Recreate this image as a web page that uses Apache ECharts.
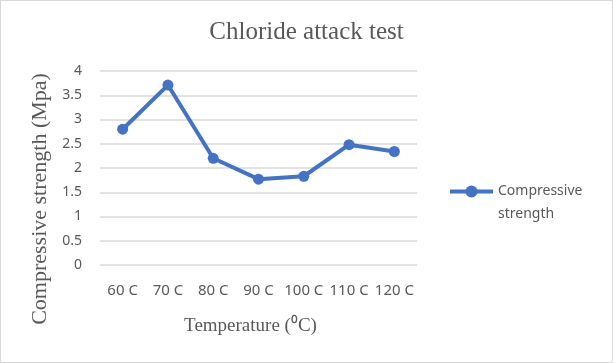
<!DOCTYPE html>
<html><head><meta charset="utf-8">
<script src="https://cdn.jsdelivr.net/npm/echarts@6/dist/echarts.min.js"></script>
<style>html,body{margin:0;padding:0;background:#fff}#c{width:611px;height:361px;border:1px solid #d9d9d9}</style>
</head><body><div id="c"></div>
<script>
const categories = ['60 C','70 C','80 C','90 C','100 C','110 C','120 C'];
const strengthValues = [2.8, 3.71, 2.2, 1.77, 1.83, 2.48, 2.34];
const seriesName = 'Compressive strength';
const chart = echarts.init(document.getElementById('c'));
chart.setOption({
  animation:false,
  title:{text:'Chloride attack test',left:'center',top:14,
    textStyle:{fontFamily:'Liberation Serif',fontSize:25,fontWeight:'normal',color:'#595959'}},
  grid:{left:99,right:195,top:70,bottom:97},
  legend:{left:442,top:151,itemWidth:43,itemHeight:15,orient:'vertical',
    lineStyle:{width:4},
    formatter:()=> ' \nCompressive\nstrength',
    textStyle:{fontFamily:'Noto Sans',fontSize:14,color:'#595959',lineHeight:23}},
  xAxis:{type:'category',data:categories,boundaryGap:true,
    axisLine:{show:false},axisTick:{show:false},
    axisLabel:{fontFamily:'Noto Sans',fontSize:15,color:'#595959',margin:18,interval:0},
    name:'Temperature (\u2070C)',nameLocation:'middle',nameGap:52,
    nameTextStyle:{fontFamily:'Liberation Serif',fontSize:19,color:'#595959',padding:[0,16,0,0]}},
  yAxis:{type:'value',min:0,max:4,interval:0.5,
    axisLine:{show:false},axisTick:{show:false},
    splitLine:{lineStyle:{color:'#d9d9d9',width:1.5}},
    axisLabel:{fontFamily:'Noto Sans',fontSize:14,color:'#595959',margin:18},
    name:'Compressive strength (Mpa)',nameLocation:'middle',nameGap:46,
    nameTextStyle:{fontFamily:'Liberation Serif',fontSize:22,color:'#595959',padding:[0,62,0,0]}},
  series:[{name:seriesName,type:'line',data:strengthValues,
    symbol:'circle',symbolSize:11,
    lineStyle:{color:'#4472C4',width:4},
    itemStyle:{color:'#4472C4'}}]
});
</script></body></html>
